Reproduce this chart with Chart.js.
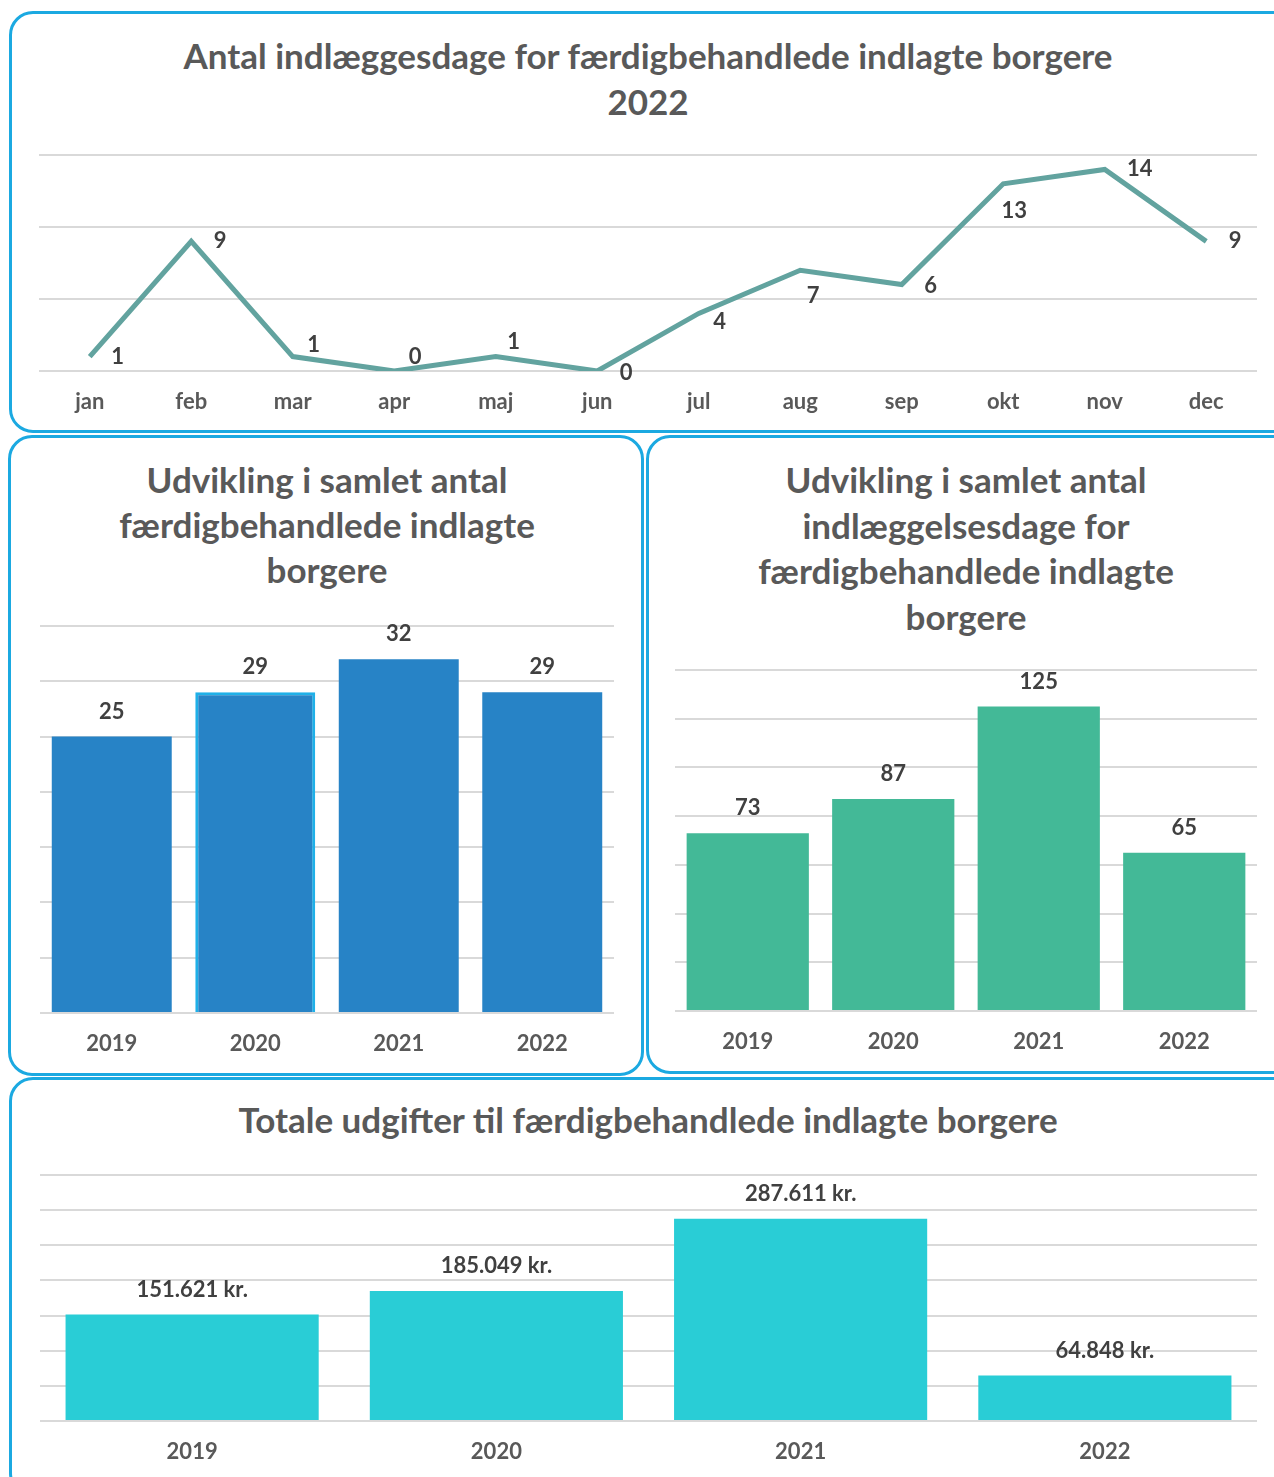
<!DOCTYPE html>
<html lang="da">
<head>
  <meta charset="UTF-8">
  <title>Færdigbehandlede indlagte borgere</title>
  <script src="https://cdn.jsdelivr.net/npm/chart.js"></script>
  <style>
    html, body {
      margin: 0;
      padding: 0;
      background: #fff;
      width: 1274px;
      height: 1477px;
      overflow: hidden;
      position: relative;
      font-family: Lato, Arial, sans-serif;
    }
    .panel {
      position: absolute;
      border: 3px solid #1ba9e1;
      border-radius: 24px;
      box-sizing: border-box;
    }
    .title {
      position: absolute;
      text-align: center;
      font-weight: bold;
      font-size: 35px;
      color: #595959;
      line-height: 46px;
      white-space: nowrap;
    }
    canvas {
      position: absolute;
    }
  </style>
</head>
<body>
  <div class="panel" style="left:9px; top:11px; width:1290px; height:422px;"></div>
  <div class="panel" style="left:8px; top:435px; width:636px; height:641px;"></div>
  <div class="panel" style="left:646px; top:435px; width:650px; height:639px;"></div>
  <div class="panel" style="left:9px; top:1077px; width:1290px; height:420px;"></div>

  <div class="title" style="left:0; width:1296px; top:32px;">Antal indlæggesdage for færdigbehandlede indlagte borgere<br>2022</div>
  <div class="title" style="left:0; width:654px; top:457px; line-height:45px;">Udvikling i samlet antal<br>færdigbehandlede indlagte<br>borgere</div>
  <div class="title" style="left:646px; width:640px; top:457px; line-height:45.5px;">Udvikling i samlet antal<br>indlæggelsesdage for<br>færdigbehandlede indlagte<br>borgere</div>
  <div class="title" style="left:0; width:1296px; top:1096px;">Totale udgifter til færdigbehandlede indlagte borgere</div>

  <canvas id="lineChart" width="1218" height="298" style="left:39px; top:130px;"></canvas>
  <canvas id="borgereChart" width="574" height="469" style="left:40px; top:601px;"></canvas>
  <canvas id="dageChart" width="582" height="423" style="left:675px; top:645px;"></canvas>
  <canvas id="udgifterChart" width="1217" height="328" style="left:40px; top:1150px;"></canvas>

  <script>
    // månedlige indlæggesdage 2022
    const months = ["jan", "feb", "mar", "apr", "maj", "jun", "jul", "aug", "sep", "okt", "nov", "dec"];
    const dage2022 = [1, 9, 1, 0, 1, 0, 4, 7, 6, 13, 14, 9];

    // år
    const years = ["2019", "2020", "2021", "2022"];
    const antalBorgere = [25, 29, 32, 29];
    const antalDage = [73, 87, 125, 65];
    const udgifter = [151621, 185049, 287611, 64848];

    const gridColor = "#d9d9d9";
    const textColor = "#595959";
    const labelColor = "#404040";

    // tekst-forskydning for punkt-labels på linjen (relativt til punktet)
    const lineLabelOffsets = [
      [28, 0], [29, 0], [21, -12], [21, -14], [18, -15], [29, 2],
      [21, 9], [13, 26], [29, 1], [11, 27], [35, 0], [29, 0]
    ];

    function kr(n) {
      return String(n).replace(/\B(?=(\d{3})+(?!\d))/g, ".") + " kr.";
    }

    function makeLabels(format, offsets) {
      return {
        id: "valueLabels",
        afterDatasetsDraw(chart) {
          const ctx = chart.ctx;
          const meta = chart.getDatasetMeta(0);
          const data = chart.data.datasets[0].data;
          ctx.save();
          ctx.font = "bold 22px Lato";
          ctx.fillStyle = labelColor;
          ctx.textAlign = "center";
          ctx.textBaseline = "middle";
          meta.data.forEach((el, i) => {
            const off = offsets ? offsets[i] : [0, -25];
            ctx.fillText(format(data[i]), el.x + off[0], el.y + off[1]);
          });
          ctx.restore();
        }
      };
    }

    function scales(max, step) {
      return {
        x: {
          offset: true,
          grid: { display: false, drawTicks: false, offset: true },
          border: { display: false },
          ticks: { color: textColor, font: { family: "Lato", size: 22, weight: "bold" }, padding: 18, maxRotation: 0, autoSkip: false },
          afterFit: s => { s.height = 57; s.paddingLeft = 0; s.paddingRight = 0; }
        },
        y: {
          min: 0,
          max: max,
          ticks: { display: false, stepSize: step },
          grid: { color: gridColor, lineWidth: 2, drawTicks: false },
          border: { display: false },
          afterFit: s => { s.width = 0; }
        }
      };
    }

    const baseOptions = (max, step) => ({
      responsive: false,
      animation: false,
      layout: { padding: { top: 25, left: 0, right: 0, bottom: 0 } },
      plugins: { legend: { display: false }, tooltip: { enabled: false } },
      scales: scales(max, step)
    });

    function barChart(id, values, color, pct, max, step, format, border) {
      new Chart(document.getElementById(id), {
        type: "bar",
        data: {
          labels: years,
          datasets: [{
            data: values,
            backgroundColor: color,
            borderColor: border ? border.colors : color,
            borderWidth: border ? border.widths : 0,
            barPercentage: pct,
            categoryPercentage: 1
          }]
        },
        options: baseOptions(max, step),
        plugins: [makeLabels(format)]
      });
    }

    function draw() {
      new Chart(document.getElementById("lineChart"), {
        type: "line",
        data: {
          labels: months,
          datasets: [{
            data: dage2022,
            borderColor: "#62a39f",
            borderWidth: 5,
            pointRadius: 0,
            tension: 0,
            fill: false
          }]
        },
        options: baseOptions(15, 5),
        plugins: [makeLabels(v => String(v), lineLabelOffsets)]
      });

      barChart("borgereChart", antalBorgere, "#2783c6", 0.836, 35, 5, v => String(v),
        { colors: ["#2783c6", "#1fb0e8", "#2783c6", "#2783c6"], widths: [0, 3, 0, 0] });
      barChart("dageChart", antalDage, "#43b997", 0.84, 140, 20, v => String(v));
      barChart("udgifterChart", udgifter, "#29cdd6", 0.832, 350000, 50000, kr);
    }

    document.fonts.load("bold 22px Lato").then(draw, draw);
  </script>
</body>
</html>
